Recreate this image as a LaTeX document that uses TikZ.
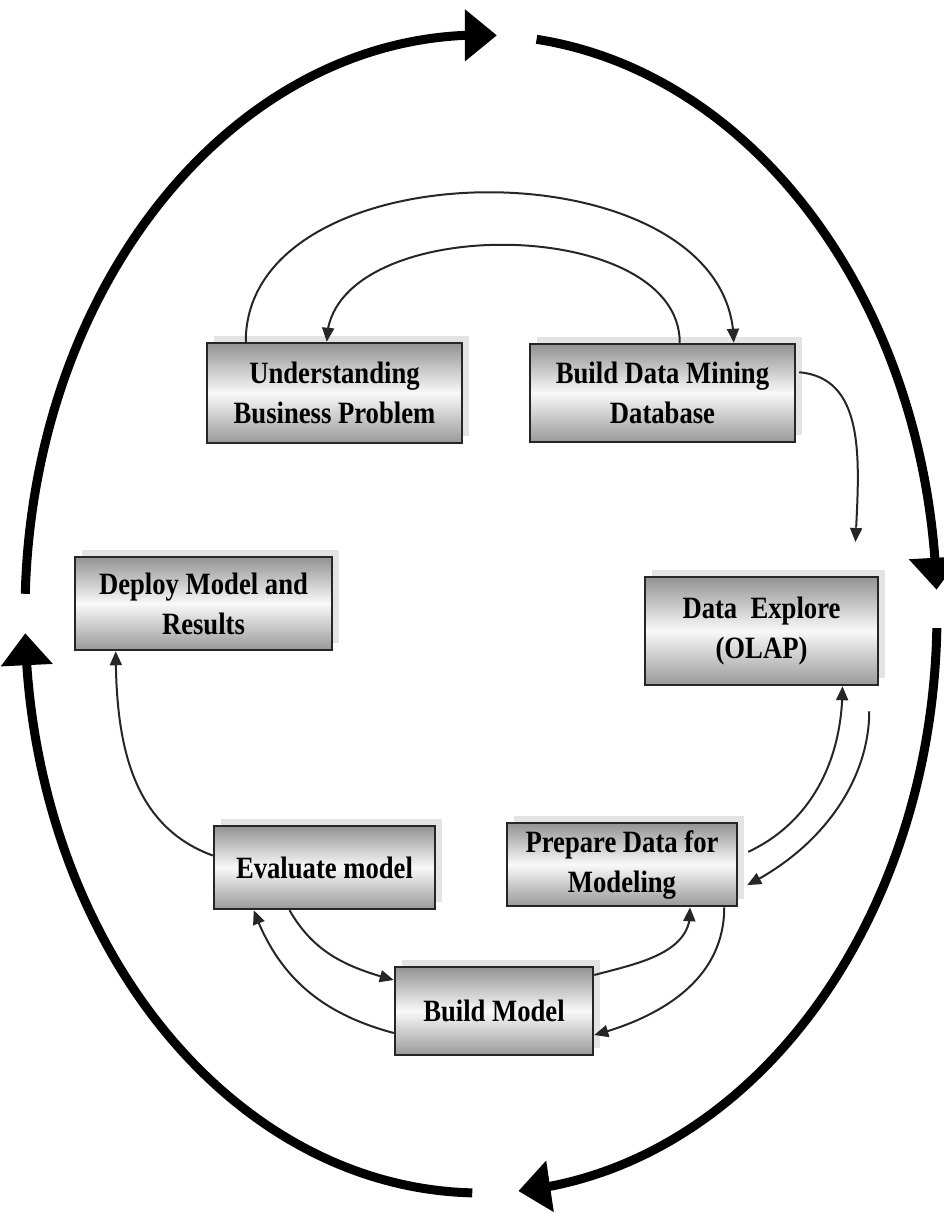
\documentclass[tikz,border=0pt]{standalone}
\usepackage{fontspec}
\setmainfont{Liberation Serif}[FakeStretch=0.86]
\usetikzlibrary{arrows.meta,bending,shadows}

\tikzset{
  stagebox/.style={
    rectangle,
    draw=black!85,
    line width=2.5pt,
    top color=gray!85,
    bottom color=gray!80,
    middle color=gray!5,
    drop shadow={shadow xshift=7pt, shadow yshift=7pt, fill=gray!22, opacity=1},
    align=center,
    font=\fontsize{31}{40}\selectfont\bfseries,
    inner sep=0pt
  },
  flow/.style={
    line width=2pt,
    draw=black!85,
    -{Triangle[length=14pt,width=12pt]}
  },
  cycle/.style={
    line width=9pt,
    -{Triangle[length=32pt,width=50pt]}
  }
}

\begin{document}
\begin{tikzpicture}[x=1pt,y=1pt]
  \useasboundingbox (0,0) rectangle (943,-1213);

  % Outer cycle
  \foreach \a/\b in {178/88, 83/2.4, -1.4/-85.3, -91.1/-178.1}
    \draw[cycle] (481,-614) ++(\a:456 and 579)
      arc[start angle=\a, end angle=\b, x radius=456, y radius=579];

  % Stages
  \node[stagebox, minimum width=255pt, minimum height=100pt]
    (ubp) at (334.5,-393) {Understanding\\Business Problem};
  \node[stagebox, minimum width=265pt, minimum height=98pt]
    (bdm) at (662.5,-393) {Build Data Mining\\Database};
  \node[stagebox, minimum width=257pt, minimum height=93pt]
    (dep) at (203.5,-603.5) {Deploy Model and\\Results};
  \node[stagebox, minimum width=233pt, minimum height=108pt]
    (dex) at (761.5,-631) {Data\ \ Explore\\(OLAP)};
  \node[stagebox, minimum width=221pt, minimum height=83pt]
    (eva) at (324.5,-867.5) {Evaluate model};
  \node[stagebox, minimum width=230pt, minimum height=83pt]
    (pre) at (622,-864.5) {Prepare Data for\\Modeling};
  \node[stagebox, minimum width=198pt, minimum height=88pt]
    (bmo) at (494,-1011) {Build Model};

  % Top loop
  \draw[flow] ([xshift=40pt]ubp.north west)
    .. controls +(0,200) and +(0,200) .. ([xshift=205pt]bdm.north west);
  \draw[flow] ([xshift=151pt]bdm.north west)
    .. controls +(0,130) and +(0,130) .. ([xshift=121pt]ubp.north west);

  % Right side
  \draw[flow, shorten <=3pt, shorten >=33pt] ([yshift=21pt]bdm.east)
    to[out=-5, in=90] ([xshift=93pt]dex.north);
  \draw[flow, shorten <=25pt, shorten >=10pt] ([xshift=-10pt]dex.south east)
    to[out=-90, in=25] ([yshift=-25pt]pre.east);
  \draw[flow, shorten <=11pt] ([yshift=8pt]pre.east)
    to[out=25, in=-90] ([xshift=81pt]dex.south);

  % Bottom loop
  \draw[flow] ([xshift=-14pt]pre.south east)
    to[out=-90, in=15] ([yshift=-24pt]bmo.east);
  \draw[flow] ([yshift=36pt]bmo.east)
    to[out=15, in=-85] ([xshift=68pt]pre.south);
  \draw[flow] ([xshift=-35pt]eva.south)
    to[out=-60, in=165] ([yshift=31pt]bmo.west);
  \draw[flow] ([yshift=-22pt]bmo.west)
    to[out=165, in=-70] ([xshift=41pt]eva.south west);

  % Deploy
  \draw[flow] ([yshift=12pt]eva.west)
    to[out=160, in=-90] ([xshift=42pt]dep.south west);
\end{tikzpicture}
\end{document}
